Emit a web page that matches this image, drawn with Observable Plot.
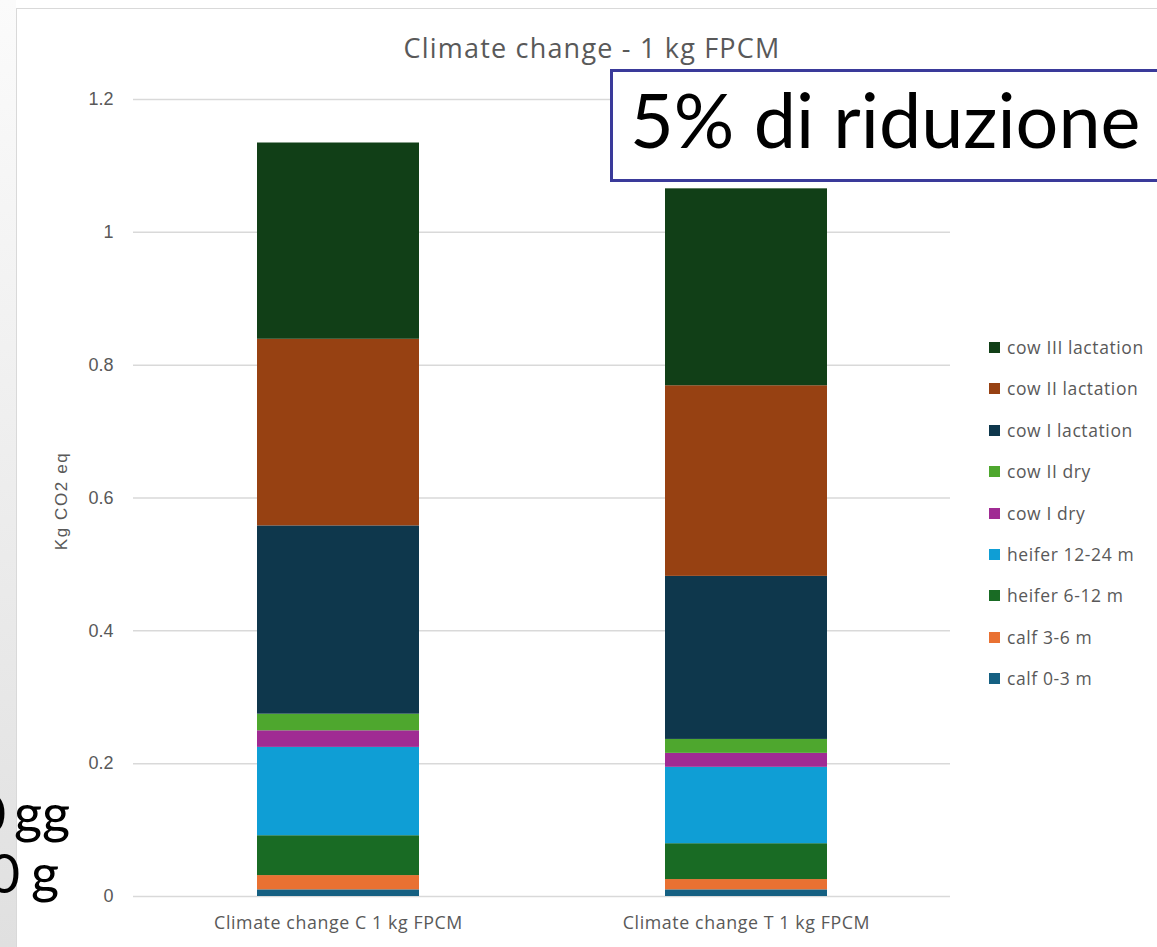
<!DOCTYPE html>
<html>
<head>
<meta charset="utf-8">
<script src="https://cdn.jsdelivr.net/npm/d3@7"></script>
<script src="https://cdn.jsdelivr.net/npm/@observablehq/plot@0.6"></script>
<style>
  html, body { margin: 0; padding: 0; background: #fff; }
  #frame { position: relative; width: 1157px; height: 947px; overflow: hidden; background: #fff; }
  #strip { position: absolute; left: 0; top: 0; width: 16px; height: 947px;
           background: linear-gradient(to bottom, #fbfbfb 0%, #ececec 55%, #e0e0e0 100%); }
  #border { position: absolute; left: 16px; top: 8px; width: 1200px; height: 1000px;
            border: 1.5px solid #d9d9d9; box-sizing: border-box; background: #fff; }
  #chart { position: absolute; left: 0; top: 0; }
  #chart g[aria-label="x-axis tick label"] { letter-spacing: 0.6px; }
  #title { position: absolute; top: 29px; left: 592px; transform: translateX(-50%);
           font-family: "Open Sans", Lato, sans-serif; font-size: 27px; letter-spacing: 1.2px;
           color: #595959; white-space: nowrap; }
  #ytitle { position: absolute; left: 62px; top: 501px; transform: translate(-50%, -50%) rotate(-90deg);
            font-family: "Liberation Sans", Arial, sans-serif; font-size: 17px; letter-spacing: 1.6px;
            color: #595959; white-space: nowrap; }
  #legend { position: absolute; left: 989px; top: 336px; font-family: "Open Sans", Lato, sans-serif;
            font-size: 17.5px; letter-spacing: 0.6px; color: #595959; }
  .item { height: 41.4px; display: flex; align-items: flex-start; white-space: nowrap; line-height: 22px; }
  .sw { width: 11px; height: 11px; margin-top: 6px; margin-right: 7px; flex: none; }
  #note { position: absolute; left: 610px; top: 69px; width: 600px; height: 113px; box-sizing: border-box;
          border: 3px solid #3a3a9a; background: #fff; }
  #note span { position: absolute; left: 17px; top: 9px; font-family: Lato, "Open Sans", sans-serif;
               font-size: 75.5px; color: #000; white-space: nowrap; line-height: 1; }
  .side { position: absolute; font-family: Lato, "Open Sans", sans-serif; font-size: 54px; color: #000;
          white-space: nowrap; line-height: 1; }
</style>
</head>
<body>
<div id="frame">
  <div id="strip"></div>
  <div id="border"></div>
</div>
<script>
// Scenarios on the x axis
const scenarios = ["Climate change C 1 kg FPCM", "Climate change T 1 kg FPCM"];

// Animal categories, stacked from the bottom of each bar upwards
const categories = [
  "calf 0-3 m", "calf 3-6 m", "heifer 6-12 m", "heifer 12-24 m",
  "cow I dry", "cow II dry", "cow I lactation", "cow II lactation", "cow III lactation"
];

// Kg CO2 eq per category, scenario C and scenario T
const valuesC = [0.010, 0.0215, 0.060, 0.133, 0.025, 0.025, 0.2835, 0.281, 0.2955];
const valuesT = [0.010, 0.0155, 0.054, 0.115, 0.021, 0.021, 0.2455, 0.287, 0.2965];

const colors = ["#156082", "#e97132", "#196b24", "#0f9ed5", "#a02b93", "#4ea72e", "#0e374c", "#974112", "#113f17"];

const yTicks = [0, 0.2, 0.4, 0.6, 0.8, 1, 1.2];
const yTickLabels = ["0", "0.2", "0.4", "0.6", "0.8", "1", "1.2"];

const chartTitle = "Climate change - 1 kg FPCM";
const yTitle = "Kg CO2 eq";
const noteText = "5% di riduzione";
const sideLines = ["0 gg", "0 g"];

const seriesByScenario = [valuesC, valuesT];
const rows = [];
scenarios.forEach((s, i) => {
  categories.forEach((c, j) => rows.push({scenario: s, category: c, value: seriesByScenario[i][j]}));
});

const chart = Plot.plot({
  width: 1157,
  height: 947,
  marginLeft: 133,
  marginRight: 207,
  marginTop: 99,
  marginBottom: 51,
  style: {background: "transparent", overflow: "visible"},
  x: {domain: scenarios, paddingInner: 0.603, paddingOuter: 0.3015, axis: null},
  y: {domain: [0, 1.2], axis: null},
  color: {domain: categories, range: colors},
  marks: [
    Plot.ruleY(yTicks, {stroke: "#d9d9d9", strokeWidth: 1.5}),
    Plot.barY(rows, {x: "scenario", y: "value", fill: "category"}),
    Plot.axisY(yTicks, {
      tickSize: 0, tickPadding: 20, label: null,
      tickFormat: d => yTickLabels[yTicks.indexOf(d)],
      fontFamily: "Liberation Sans, Arial, sans-serif", fontSize: 18, fill: "#595959"
    }),
    Plot.axisX({
      tickSize: 0, tickPadding: 20, label: null,
      fontFamily: "Open Sans, Lato, sans-serif", fontSize: 17.8, fill: "#595959"
    })
  ]
});
chart.id = "chart";

const frame = document.getElementById("frame");
frame.appendChild(chart);

const title = document.createElement("div");
title.id = "title";
title.textContent = chartTitle;
frame.appendChild(title);

const ytitle = document.createElement("div");
ytitle.id = "ytitle";
ytitle.textContent = yTitle;
frame.appendChild(ytitle);

const legend = document.createElement("div");
legend.id = "legend";
categories.slice().reverse().forEach(c => {
  const item = document.createElement("div");
  item.className = "item";
  const sw = document.createElement("span");
  sw.className = "sw";
  sw.style.background = colors[categories.indexOf(c)];
  const label = document.createElement("span");
  label.textContent = c;
  item.appendChild(sw);
  item.appendChild(label);
  legend.appendChild(item);
});
frame.appendChild(legend);

const note = document.createElement("div");
note.id = "note";
const noteSpan = document.createElement("span");
noteSpan.textContent = noteText;
note.appendChild(noteSpan);
frame.appendChild(note);

// Slide text running in from the left edge
const sideRight = [1087, 1098];
const sideTop = [786, 846];
const sideGap = ["-6px", "-3px"];
sideLines.forEach((t, i) => {
  const d = document.createElement("div");
  d.className = "side";
  d.textContent = t;
  d.style.right = sideRight[i] + "px";
  d.style.top = sideTop[i] + "px";
  d.style.wordSpacing = sideGap[i];
  frame.appendChild(d);
});
</script>
</body>
</html>
